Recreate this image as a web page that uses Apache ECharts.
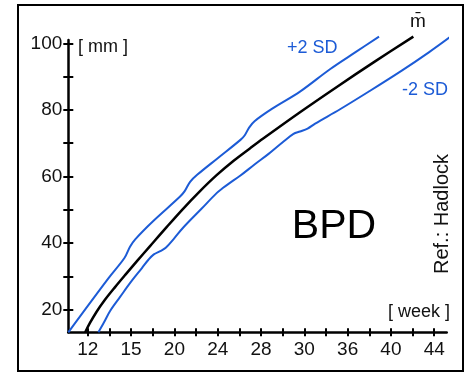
<!DOCTYPE html>
<html>
<head>
<meta charset="utf-8">
<script src="https://cdn.jsdelivr.net/npm/echarts@6/dist/echarts.min.js"></script>
<style>
html,body{margin:0;padding:0;background:#fff;}
#chart{width:469px;height:374px;}
</style>
</head>
<body>
<div id="chart"></div>
<script>
// ---- data ----
const plusWeeks = [10.2, 13.9, 15.4, 15.9, 16.4, 18.0, 20.5, 20.95, 21.45, 22.1, 24.0, 26.1, 26.5, 26.9, 27.4, 29.0, 31.6, 34.4, 36.8, 38.9];
const plusVals  = [13.2, 29.4, 35.6, 38.9, 41.2, 46.5, 53.9, 55.6, 58.4, 60.5, 65.5, 71.0, 72.4, 74.7, 76.6, 80.3, 85.5, 92.3, 97.5, 102.0];

const meanWeeks = [11.76, 12.2, 12.8, 13.5, 14.5, 15.5, 16.6, 17.75, 19.2, 20.8, 22.3, 23.9, 25.5, 27.0, 28.2, 31.6, 35.0, 38.5, 42.07];
const meanVals  = [13.2, 16.0, 19.3, 22.6, 26.7, 30.6, 34.8, 39.1, 44.5, 50.3, 55.4, 60.4, 64.8, 68.5, 71.4, 79.3, 86.9, 94.5, 102.0];

const minusWeeks = [12.98, 13.5, 14.06, 15.0, 16.0, 17.0, 17.6, 18.1, 18.7, 19.2, 20.0, 20.8, 22.5, 23.9, 24.5, 25.0, 26.1, 27.4, 28.7, 30.0, 31.0, 31.6, 32.3, 33.0, 35.3, 38.0, 41.0, 43.5, 45.5];
const minusVals  = [13.2, 16.2, 19.6, 23.9, 28.4, 32.5, 35.0, 36.6, 37.6, 38.6, 41.5, 44.6, 50.3, 55.0, 56.6, 57.8, 60.3, 63.6, 66.8, 70.3, 72.8, 73.5, 74.4, 75.9, 80.2, 85.6, 91.8, 97.3, 102.0];

const xTickWeeks  = [12, 14, 16, 18, 20, 22, 24, 26, 28, 30, 32, 34, 36, 38, 40, 42, 44];
const xLabelWeeks = [12, 16, 20, 24, 28, 32, 36, 40, 44];
const xTickLabels = ['12', '15', '20', '24', '28', '30', '36', '40', '44'];

const yTickVals  = [20, 30, 40, 50, 60, 70, 80, 90, 100];
const yLabelVals = [20, 40, 60, 80, 100];

// ---- chart ----
const FONT = "'Liberation Sans', Arial, Helvetica, sans-serif";
const BLUE = '#1c5bd6';
const pairs = (ws, vs) => ws.map((w, i) => [w, vs[i]]);

const chart = echarts.init(document.getElementById('chart'), null, {renderer: 'canvas'});

const xBase = {
  type: 'value', min: 10.2, max: 45.15, gridIndex: 0, position: 'bottom',
  splitLine: {show: false}
};
const yBase = {
  type: 'value', min: 13.2, max: 101, gridIndex: 0, position: 'left',
  splitLine: {show: false}
};

chart.setOption({
  animation: false,
  backgroundColor: '#fff',
  grid: {left: 68.3, right: 22.3, top: 40, bottom: 41.7, containLabel: false},
  xAxis: [
    Object.assign({}, xBase, {
      axisLine: {show: true, onZero: false, lineStyle: {color: '#000', width: 2.5}},
      axisTick: {show: true, customValues: xTickWeeks, inside: false, length: 4, lineStyle: {color: '#000', width: 2}},
      axisLabel: {
        show: true, customValues: xLabelWeeks, margin: 8,
        formatter: v => xTickLabels[xLabelWeeks.indexOf(Math.round(v))],
        color: '#111', fontSize: 19, fontFamily: FONT
      }
    }),
    Object.assign({}, xBase, {
      axisLine: {show: false, onZero: false},
      axisTick: {show: true, customValues: xTickWeeks, inside: true, length: 4, lineStyle: {color: '#000', width: 2}},
      axisLabel: {show: false}
    })
  ],
  yAxis: [
    Object.assign({}, yBase, {
      axisLine: {show: true, onZero: false, lineStyle: {color: '#000', width: 2.5}},
      axisTick: {show: true, customValues: yTickVals, inside: false, length: 5, lineStyle: {color: '#000', width: 2}},
      axisLabel: {
        show: true, customValues: yLabelVals, margin: 6,
        color: '#111', fontSize: 19, fontFamily: FONT
      }
    }),
    Object.assign({}, yBase, {
      axisLine: {show: false, onZero: false},
      axisTick: {show: true, customValues: yTickVals, inside: true, length: 5, lineStyle: {color: '#000', width: 2}},
      axisLabel: {show: false}
    })
  ],
  series: [
    {
      name: '+2 SD', type: 'line', xAxisIndex: 0, yAxisIndex: 0,
      data: pairs(plusWeeks, plusVals), showSymbol: false, smooth: 0.35, clip: false,
      lineStyle: {color: BLUE, width: 2}
    },
    {
      name: 'mean', type: 'line', xAxisIndex: 0, yAxisIndex: 0,
      data: pairs(meanWeeks, meanVals), showSymbol: false, smooth: 0.35, clip: false,
      lineStyle: {color: '#000', width: 2.5}
    },
    {
      name: '-2 SD', type: 'line', xAxisIndex: 0, yAxisIndex: 0,
      data: pairs(minusWeeks, minusVals), showSymbol: false, smooth: 0.35, clip: false,
      lineStyle: {color: BLUE, width: 2}
    }
  ],
  graphic: [
    {type: 'rect', shape: {x: 18, y: 5, width: 445, height: 366},
     style: {fill: 'none', stroke: '#000', lineWidth: 2}, z: 100},
    {type: 'text', x: 78, y: 47,
     style: {text: '[ mm ]', font: '18px ' + FONT, fill: '#111', textAlign: 'left', align: 'left', textVerticalAlign: 'middle', verticalAlign: 'middle'}},
    {type: 'text', x: 450, y: 312,
     style: {text: '[ week ]', font: '18px ' + FONT, fill: '#111', textAlign: 'right', align: 'right', textVerticalAlign: 'middle', verticalAlign: 'middle'}},
    {type: 'text', x: 287, y: 48,
     style: {text: '+2 SD', font: '18px ' + FONT, fill: BLUE, textAlign: 'left', align: 'left', textVerticalAlign: 'middle', verticalAlign: 'middle'}},
    {type: 'text', x: 402, y: 90,
     style: {text: '-2 SD', font: '18px ' + FONT, fill: BLUE, textAlign: 'left', align: 'left', textVerticalAlign: 'middle', verticalAlign: 'middle'}},
    {type: 'text', x: 418, y: 22,
     style: {text: 'm\u0304', font: '19px ' + FONT, fill: '#111', textAlign: 'center', align: 'center', textVerticalAlign: 'middle', verticalAlign: 'middle'}},
    {type: 'text', x: 334, y: 227,
     style: {text: 'BPD', font: '41px ' + FONT, fill: '#000', textAlign: 'center', align: 'center', textVerticalAlign: 'middle', verticalAlign: 'middle'}},
    {type: 'text', x: 442, y: 214, rotation: Math.PI / 2,
     style: {text: 'Ref.: Hadlock', font: '20px ' + FONT, fill: '#111', textAlign: 'center', align: 'center', textVerticalAlign: 'middle', verticalAlign: 'middle'}}
  ]
});
</script>
</body>
</html>
